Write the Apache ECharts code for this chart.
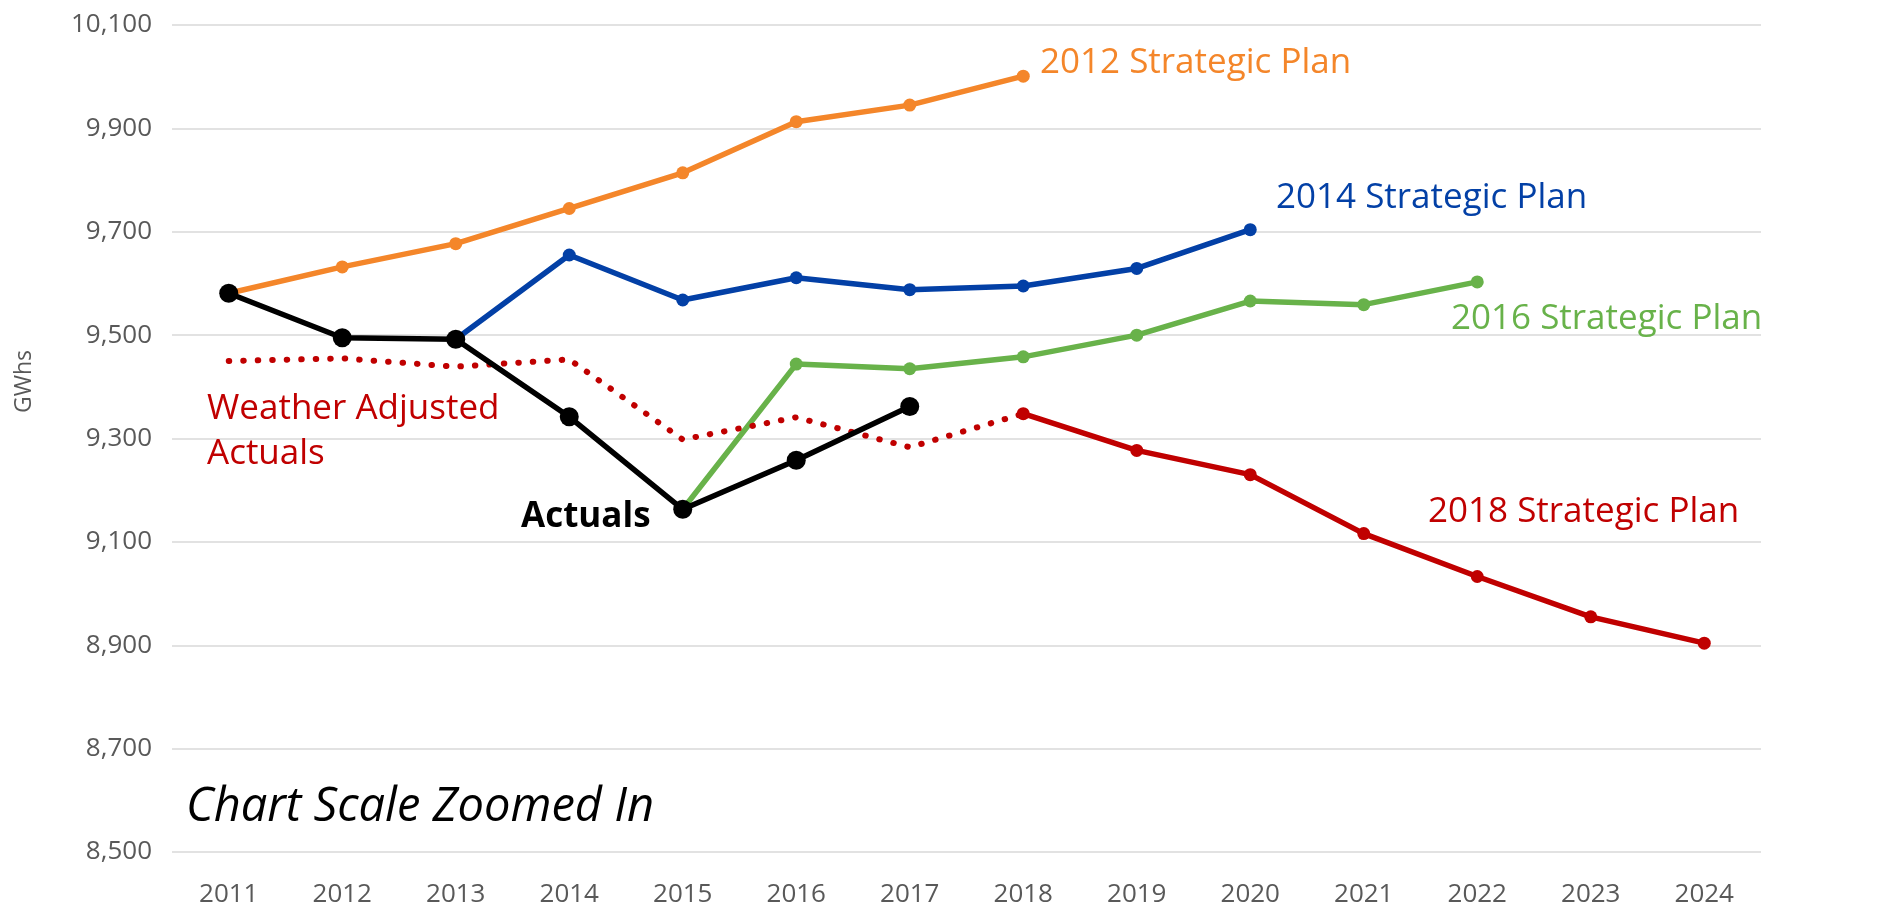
<!DOCTYPE html>
<html>
<head>
<meta charset="utf-8">
<script src="https://cdn.jsdelivr.net/npm/echarts@6/dist/echarts.min.js"></script>
<style>
  html, body { margin: 0; padding: 0; background: #fff; }
  #main { width: 1884px; height: 908px; }
</style>
</head>
<body>
<div id="main"></div>
<script>
// 年份
var years = ['2011', '2012', '2013', '2014', '2015', '2016', '2017', '2018', '2019', '2020', '2021', '2022', '2023', '2024'];
var yTicks = [8500, 8700, 8900, 9100, 9300, 9500, 9700, 9900, 10100];

// series values (GWhs), null where a plan has no value
var plan2012 = [9581, 9632, 9677, 9745, 9814, 9913, 9945, 10001, null, null, null, null, null, null];
var plan2014 = [null, null, 9492, 9655, 9568, 9611, 9588, 9595, 9629, 9704, null, null, null, null];
var plan2016 = [null, null, null, null, 9163, 9444, 9435, 9458, 9500, 9566, 9559, 9603, null, null];
var plan2018 = [null, null, null, null, null, null, null, 9348, 9277, 9230, 9116, 9033, 8955, 8904];
var weatherAdj = [9450, 9455, 9439, 9453, 9298, 9341, 9283, 9348, null, null, null, null, null, null];
var actuals = [9581, 9495, 9492, 9342, 9163, 9258, 9362, null, null, null, null, null, null, null];

var colors = {
    orange: '#F4862A',
    blue: '#0340A6',
    green: '#68B24A',
    red: '#C00000',
    black: '#000000'
};
var textFont = '"Open Sans", "Noto Sans", sans-serif';

var chart = echarts.init(document.getElementById('main'));

function planSeries(name, data, color) {
    return {
        name: name,
        type: 'line',
        data: data,
        symbol: 'circle',
        symbolSize: 13,
        connectNulls: false,
        itemStyle: {color: color},
        lineStyle: {color: color, width: 5.5},
        emphasis: {disabled: true}
    };
}

function label(text, left, top, color, extra) {
    var style = {
        text: text,
        fill: color,
        font: '35px ' + textFont,
        textVerticalAlign: 'middle'
    };
    for (var k in extra) {
        style[k] = extra[k];
    }
    return {type: 'text', left: left, top: top, style: style, z: 100};
}

var option = {
    animation: false,
    grid: {left: 172, right: 123, top: 25, bottom: 56},
    xAxis: {
        type: 'category',
        data: years,
        boundaryGap: true,
        axisLine: {show: false},
        axisTick: {show: false},
        axisLabel: {
            color: '#595959',
            fontSize: 26,
            fontFamily: textFont,
            margin: 30
        }
    },
    yAxis: {
        type: 'value',
        min: yTicks[0],
        max: yTicks[yTicks.length - 1],
        interval: 200,
        axisLine: {show: false},
        axisTick: {show: false},
        splitLine: {lineStyle: {color: '#D9D9D9', width: 1.5}},
        axisLabel: {
            color: '#595959',
            fontSize: 26,
            fontFamily: textFont,
            margin: 20,
            formatter: function (val) {
                return val.toLocaleString('en-US');
            }
        }
    },
    series: [
        planSeries('2012 Strategic Plan', plan2012, colors.orange),
        planSeries('2014 Strategic Plan', plan2014, colors.blue),
        planSeries('2016 Strategic Plan', plan2016, colors.green),
        planSeries('2018 Strategic Plan', plan2018, colors.red),
        {
            name: 'Weather Adjusted Actuals',
            type: 'line',
            data: weatherAdj,
            showSymbol: false,
            symbol: 'none',
            lineStyle: {color: colors.red, width: 6, type: [0.5, 14], cap: 'round'},
            emphasis: {disabled: true}
        },
        {
            name: 'Actuals',
            type: 'line',
            data: actuals,
            symbol: 'circle',
            symbolSize: 19,
            itemStyle: {color: colors.black},
            lineStyle: {color: colors.black, width: 5.5},
            emphasis: {disabled: true},
            z: 3
        }
    ],
    graphic: [
        {
            type: 'text',
            left: 13,
            top: 350,
            rotation: Math.PI / 2,
            style: {
                text: 'GWhs',
                fill: '#595959',
                font: '23px ' + textFont,
                textAlign: 'center',
                textVerticalAlign: 'middle'
            }
        },
        label('2012 Strategic Plan', 1040, 46, colors.orange),
        label('2014 Strategic Plan', 1276, 181, colors.blue),
        label('2016 Strategic Plan', 1451, 302, colors.green),
        label('2018 Strategic Plan', 1428, 495, colors.red),
        label('Weather Adjusted\nActuals', 207, 387, colors.red, {lineHeight: 45}),
        label('Actuals', 521, 500, colors.black, {font: 'bold 35px ' + textFont}),
        label('Chart Scale Zoomed In', 186, 784, colors.black, {font: 'italic 47px ' + textFont})
    ]
};

chart.setOption(option);
</script>
</body>
</html>
